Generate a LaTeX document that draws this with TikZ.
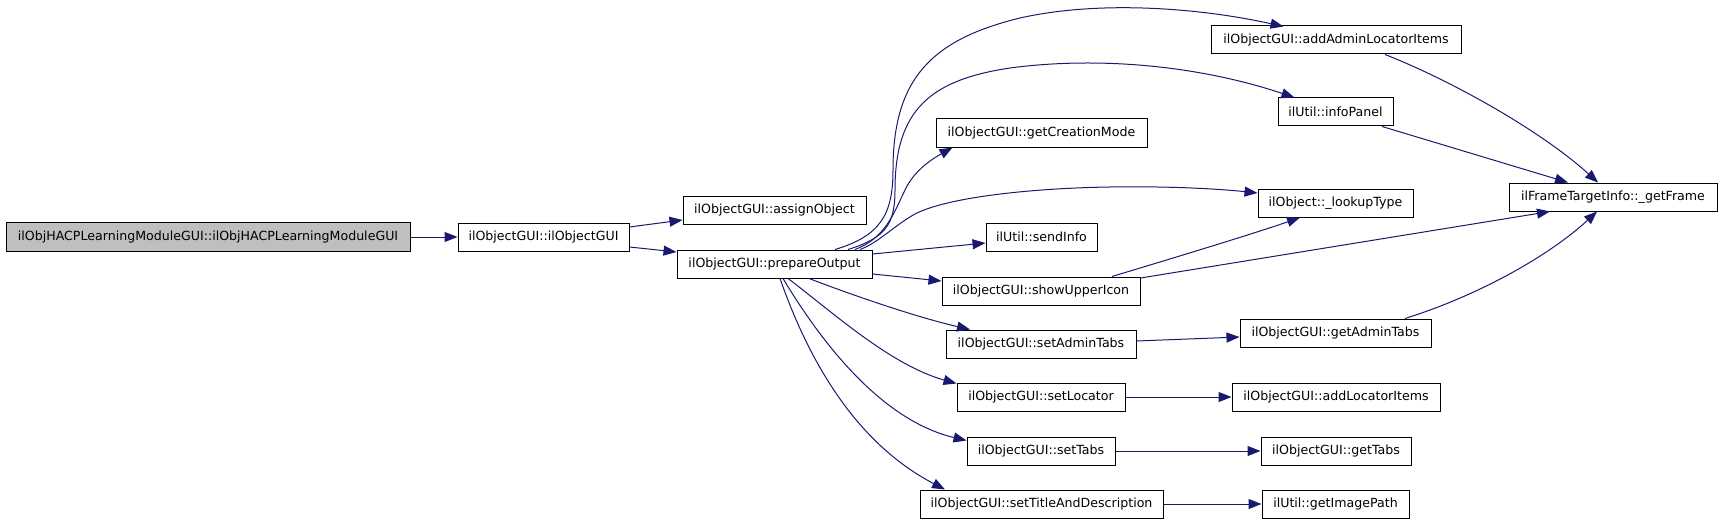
\documentclass[tikz,border=0pt]{standalone}
\usepackage{fontspec}
\setmainfont{DejaVu Sans}
\usetikzlibrary{arrows.meta,calc}
\definecolor{edgeblue}{HTML}{191970}
\definecolor{rootgray}{HTML}{BFBFBF}
\begin{document}
\begin{tikzpicture}[x=1pt,y=-1pt,
  fn/.style={draw=black,line width=1pt,fill=white,inner sep=0pt,minimum height=28pt,font=\fontsize{12.6}{15}\selectfont},
  call/.style={draw=edgeblue,line width=1pt,-{Triangle[length=13pt,width=10pt]}}]
\useasboundingbox (0,0) rectangle (1723,524);
% nodes
\node[fn,fill=rootgray,minimum width=404pt,minimum height=29pt] (root) at (208,237) {ilObjHACPLearningModuleGUI::ilObjHACPLearningModuleGUI};
\node[fn,minimum width=171pt] (ilobj) at (543.5,237) {ilObjectGUI::ilObjectGUI};
\node[fn,minimum width=183pt] (assign) at (774.5,210.5) {ilObjectGUI::assignObject};
\node[fn,minimum width=195pt] (prep) at (774.5,264) {ilObjectGUI::prepareOutput};
\node[fn,minimum width=250pt] (addadmin) at (1336,40) {ilObjectGUI::addAdminLocatorItems};
\node[fn,minimum width=115pt] (infopanel) at (1335.5,112) {ilUtil::infoPanel};
\node[fn,minimum width=211pt] (creation) at (1041.5,133) {ilObjectGUI::getCreationMode};
\node[fn,minimum width=155pt] (lookup) at (1335.5,203) {ilObject::\_lookupType};
\node[fn,minimum width=111pt] (sendinfo) at (1041.5,237) {ilUtil::sendInfo};
\node[fn,minimum width=208pt] (getframe) at (1613,197) {ilFrameTargetInfo::\_getFrame};
\node[fn,minimum width=198pt] (showupper) at (1041,291) {ilObjectGUI::showUpperIcon};
\node[fn,minimum width=191pt] (getadmintabs) at (1335.5,333) {ilObjectGUI::getAdminTabs};
\node[fn,minimum width=190pt] (setadmintabs) at (1041,344) {ilObjectGUI::setAdminTabs};
\node[fn,minimum width=168pt] (setlocator) at (1041,397) {ilObjectGUI::setLocator};
\node[fn,minimum width=208pt] (addlocator) at (1336,397) {ilObjectGUI::addLocatorItems};
\node[fn,minimum width=148pt] (settabs) at (1041,451) {ilObjectGUI::setTabs};
\node[fn,minimum width=150pt] (gettabs) at (1336,451) {ilObjectGUI::getTabs};
\node[fn,minimum width=243pt] (settitle) at (1041.5,504) {ilObjectGUI::setTitleAndDescription};
\node[fn,minimum width=147pt] (getimage) at (1335.5,504) {ilUtil::getImagePath};
% edges
\draw[call] (root.east) -- (ilobj.west);
\draw[call] ($(ilobj.east)+(0,-10)$) -- ($(assign.west)+(0,9.5)$);
\draw[call] ($(ilobj.east)+(0,10)$) -- ($(prep.west)+(0,-12)$);
% prepareOutput upward bundle
\draw[call] ($(prep.north)+(60.5,0)$) .. controls (880,236) and (893,215) .. (893,170)
  .. controls (893,80) and (930,40) .. (1020,18)
  .. controls (1100,0) and (1200,8) .. ($(addadmin.south west)+(73,-28)$);
\draw[call] ($(prep.north)+(73.5,0)$) .. controls (885,238) and (895,225) .. (895,190)
  .. controls (895,110) and (930,80) .. (1010,68)
  .. controls (1100,56) and (1200,66) .. ($(infopanel.north)+(-41,0)$);
\draw[call] ($(prep.north)+(80.5,0)$) .. controls (885,238) and (893,215) .. (905,190)
  .. controls (912,175) and (925,163) .. ($(creation.south west)+(17,0)$);
\draw[call] ($(prep.north)+(85.5,0)$) .. controls (878,243) and (895,225) .. (915,214)
  .. controls (950,196) and (1040,188) .. (1110,187)
  .. controls (1170,186) and (1220,189) .. ($(lookup.west)+(0,-10)$);
\draw[call] ($(prep.east)+(0,-10)$) -- ($(sendinfo.west)+(0,6)$);
\draw[call] ($(prep.east)+(0,10)$) -- ($(showupper.west)+(0,-10)$);
% prepareOutput downward
\draw[call] ($(prep.south)+(34.5,0)$) .. controls (860,298) and (920,318) .. ($(setadmintabs.north)+(-71,0)$);
\draw[call] ($(prep.south)+(13.5,0)$) .. controls (830,310) and (890,365) .. ($(setlocator.north west)+(0,1)$);
\draw[call] ($(prep.south)+(8.5,0)$) .. controls (820,340) and (880,420) .. ($(settabs.north west)+(0,4)$);
\draw[call] ($(prep.south)+(5.5,0)$) .. controls (805,350) and (850,440) .. ($(settitle.north)+(-96.5,0)$);
% second level
\draw[call] ($(addadmin.south)+(49,0)$) .. controls (1450,80) and (1540,130) .. ($(getframe.north)+(-15,0)$);
\draw[call] ($(infopanel.south)+(46.5,0)$) -- ($(getframe.north)+(-45,0)$);
\draw[call] ($(showupper.north)+(71,0)$) .. controls (1150,265) and (1250,235) .. ($(lookup.south)+(-35.5,0)$);
\draw[call] ($(showupper.east)+(0,-13)$) -- ($(getframe.south)+(-63,0)$);
\draw[call] ($(getadmintabs.north)+(69.5,0)$) .. controls (1480,295) and (1550,255) .. ($(getframe.south)+(-16,0)$);
\draw[call] ($(setadmintabs.east)+(0,-3)$) -- ($(getadmintabs.west)+(0,4)$);
\draw[call] (setlocator.east) -- (addlocator.west);
\draw[call] (settabs.east) -- (gettabs.west);
\draw[call] (settitle.east) -- (getimage.west);
\end{tikzpicture}
\end{document}
